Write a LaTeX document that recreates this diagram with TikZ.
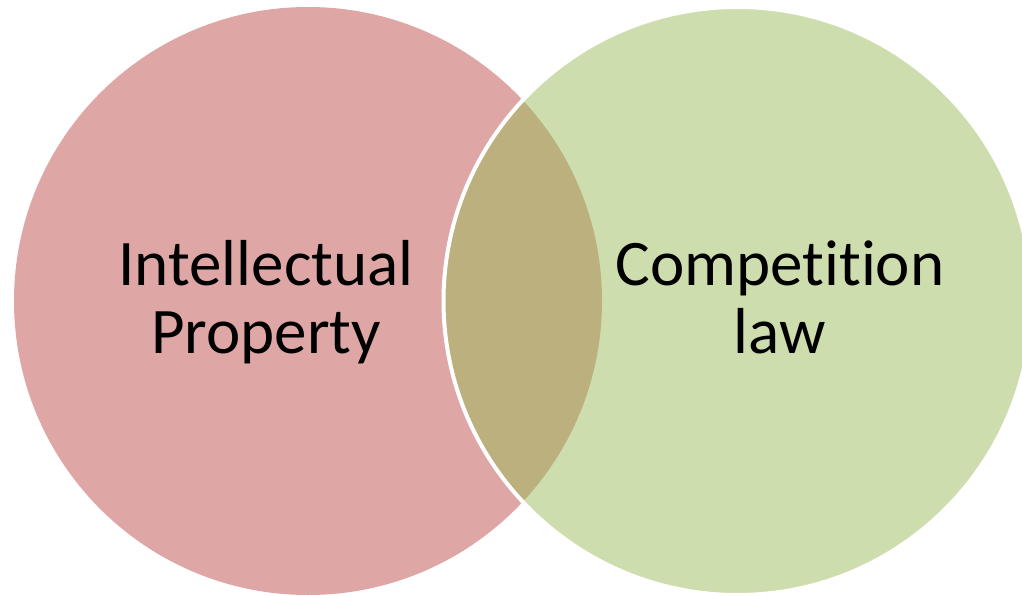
\documentclass[tikz,border=0pt]{standalone}
\usepackage{fontspec}
\setmainfont{Carlito}[Ligatures={NoCommon,NoRequired,NoContextual}]
\usepackage{tikz}
\usetikzlibrary{positioning}
\definecolor{ippink}{RGB}{223,166,166}
\definecolor{clgreen}{RGB}{206,221,173}
\definecolor{overlap}{RGB}{187,176,126}
\tikzset{%
	setcircle/.style = {circle, inner sep=0pt, minimum size=588pt}, % Set
	setlabel/.style  = {align=center, inner sep=0pt, font=\fontsize{65}{68}\selectfont}, % Label
}

\begin{document}
\begin{tikzpicture}[x=1pt,y=1pt]
		\useasboundingbox (0,0) rectangle (1022,595);
		\node[setcircle,fill=ippink] (ip) at (308,294) {};
		\node[setcircle,fill=clgreen] (cl) at (737.5,294) {};
		% overlap of both sets
		\begin{scope}
			\clip (ip.center) circle (294);
			\fill[overlap] (cl.center) circle (294);
		\end{scope}
		\draw[white,line width=4pt] (cl.center) circle (294);
		\node[setlabel,anchor=base] (iptext) at (266,242) {Intellectual\\Property};
		\node[setlabel,anchor=base] (cltext) at (780,242) {Competition\\law};
	\end{tikzpicture}
\end{document}
